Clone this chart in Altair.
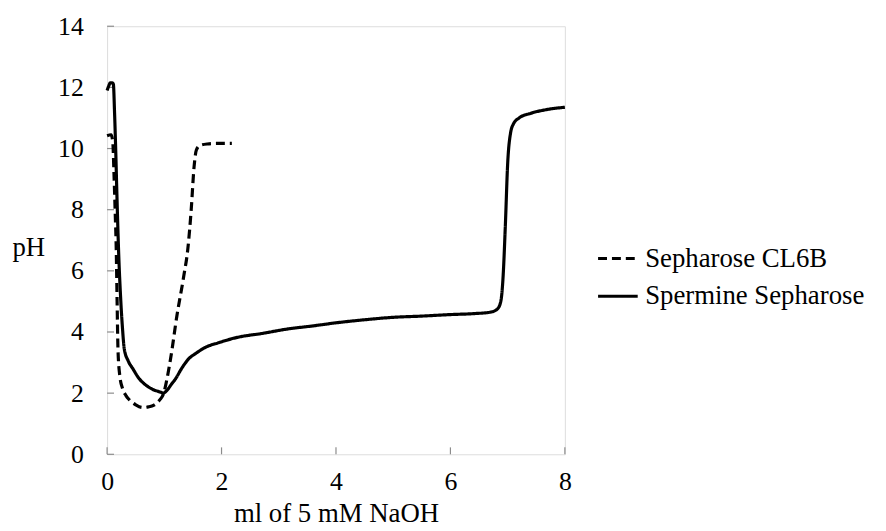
import altair as alt
import pandas as pd

# Sepharose CL6B (dashed)
cl6b_x = [0, 0.07, 0.1, 0.12, 0.14, 0.16, 0.175, 0.19, 0.22, 0.27, 0.33, 0.39, 0.5, 0.62, 0.72,
          0.82, 0.92, 0.99, 1.05, 1.11, 1.22, 1.34, 1.41, 1.47, 1.52, 1.56, 1.62, 1.75, 1.95, 2.18]
cl6b_y = [10.42, 10.45, 10.2, 9.2, 8.0, 6.7, 5.0, 3.45, 2.6, 2.15, 1.92, 1.78, 1.62, 1.53, 1.55,
          1.61, 1.78, 2.0, 2.5, 3.13, 4.53, 5.83, 6.7, 8.0, 9.4, 9.95, 10.1, 10.15, 10.17, 10.17]

# Spermine Sepharose (solid)
sperm_x = [0, 0.03, 0.055, 0.09, 0.11, 0.13, 0.15, 0.17, 0.2, 0.24, 0.27, 0.30, 0.37, 0.45, 0.55,
           0.68, 0.80, 0.94, 0.98, 1.05, 1.12, 1.2, 1.3, 1.43, 1.55, 1.72, 1.95, 2.29, 2.7, 3.16,
           3.6, 4.0, 4.5, 5.0, 5.5, 6.0, 6.4, 6.7, 6.82, 6.88, 6.92, 6.96, 7.0, 7.05, 7.1, 7.2,
           7.4, 7.7, 8.0]
sperm_y = [11.9, 12.05, 12.15, 12.15, 12.1, 11.2, 10.0, 8.6, 6.7, 5.0, 4.1, 3.45, 3.05, 2.8, 2.5,
           2.26, 2.12, 2.03, 2.0, 2.1, 2.28, 2.48, 2.8, 3.13, 3.3, 3.5, 3.65, 3.83, 3.95, 4.1,
           4.2, 4.3, 4.4, 4.48, 4.52, 4.57, 4.6, 4.65, 4.75, 5.0, 5.8, 7.5, 9.5, 10.5, 10.8, 11.0,
           11.15, 11.28, 11.35]

series_names = ["Sepharose CL6B", "Spermine Sepharose"]
x_ticks = [0, 2, 4, 6, 8]
y_ticks = [0, 2, 4, 6, 8, 10, 12, 14]

FONT = "Liberation Serif"
GRAY = "#8c8c8c"
W, H = 462, 432

df = pd.concat([
    pd.DataFrame({"x": cl6b_x, "y": cl6b_y, "series": series_names[0], "order": range(len(cl6b_x))}),
    pd.DataFrame({"x": sperm_x, "y": sperm_y, "series": series_names[1], "order": range(len(sperm_x))}),
])

xs = alt.Scale(domain=[0, 8], nice=False, zero=False)
ys = alt.Scale(domain=[0, 14], nice=False, zero=False)

lines = alt.Chart(df).mark_line(color="black", strokeWidth=3.2, interpolate="monotone").encode(
    x=alt.X("x:Q", scale=xs,
            axis=alt.Axis(title="ml of 5 mM NaOH", values=x_ticks, format="d", ticks=False,
                          domain=False, grid=False, labelFlush=False, labelFont=FONT,
                          labelFontSize=26, labelColor="black", labelPadding=15,
                          titleFont=FONT, titleFontSize=27, titleFontWeight="normal",
                          titleColor="black", titleBaseline="alphabetic", titleY=68)),
    y=alt.Y("y:Q", scale=ys,
            axis=alt.Axis(title="pH", values=y_ticks, format="d", ticks=False, domain=False,
                          grid=False, labelFlush=False, labelFont=FONT, labelFontSize=26,
                          labelColor="black", labelPadding=24,
                          titleFont=FONT, titleFontSize=27, titleFontWeight="normal",
                          titleColor="black", titleAngle=0, titleAlign="left",
                          titleBaseline="alphabetic", titleX=-96, titleY=231)),
    strokeDash=alt.StrokeDash("series:N",
                              scale=alt.Scale(domain=series_names, range=[[9, 5], [1, 0]]),
                              legend=alt.Legend(orient="none", legendX=494, legendY=213,
                                                title=None, symbolType="stroke",
                                                symbolSize=1600, symbolStrokeWidth=3,
                                                symbolStrokeColor="black", labelFont=FONT,
                                                labelFontSize=27, labelColor="black",
                                                labelLimit=0, labelOffset=6, rowPadding=3,
                                                padding=0)),
    order="order:Q",
)

xt = pd.DataFrame({"v": x_ticks})
yt = pd.DataFrame({"v": y_ticks})

xtick_rules = alt.Chart(xt).mark_rule(color=GRAY, strokeWidth=1.2).encode(
    x=alt.X("v:Q", scale=xs), y=alt.value(H), y2=alt.value(H - 7))
ytick_rules = alt.Chart(yt).mark_rule(color=GRAY, strokeWidth=1.2).encode(
    y=alt.Y("v:Q", scale=ys), x=alt.value(0), x2=alt.value(7))

chart = alt.layer(xtick_rules, ytick_rules, lines).properties(
    width=W, height=H,
    autosize=alt.AutoSizeParams(type="none"),
    padding={"left": 100, "top": 16, "right": 316, "bottom": 75},
).configure_view(stroke=GRAY, strokeWidth=1.5).configure(background="white", font=FONT)

chart.save("out.html", embed_options={"renderer": "svg", "actions": False})
